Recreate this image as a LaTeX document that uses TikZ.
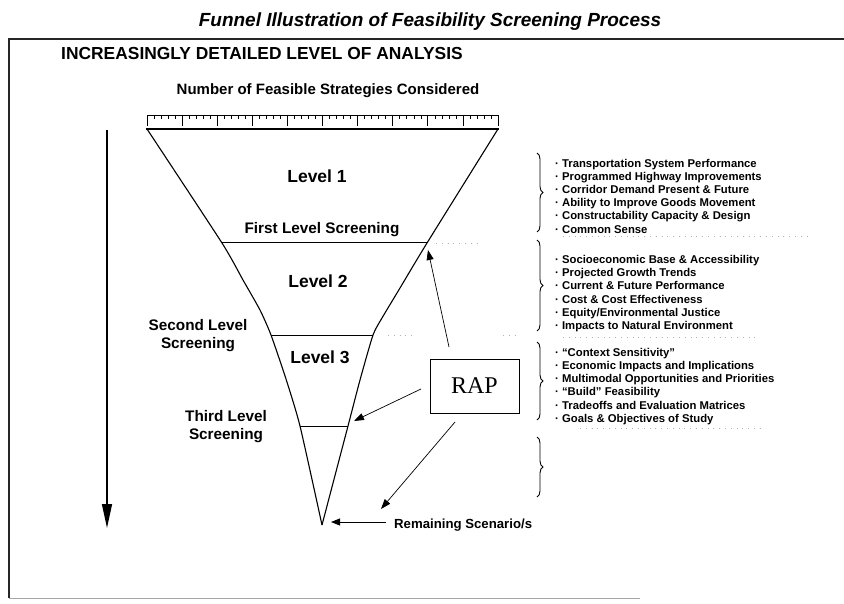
\documentclass[tikz,border=0pt]{standalone}
\usepackage{fontspec}
\setmainfont{Liberation Sans}
\newfontfamily\rapfont{Liberation Serif}
\usetikzlibrary{arrows.meta,decorations.pathreplacing}
\begin{document}
\begin{tikzpicture}[x=1pt,y=-1pt,
  txt/.style={inner sep=0pt,anchor=base},
  lvl/.style={txt,font=\bfseries\fontsize{17.5}{20}\selectfont},
  scr/.style={inner sep=0pt,align=center,font=\bfseries\fontsize{15.3}{18}\selectfont},
  item/.style={inner sep=0pt,anchor=base west,font=\bfseries\fontsize{11.3}{13}\selectfont},
  funnel/.style={line width=1.1pt,line join=round},
  cutline/.style={line width=1pt},
  faint/.style={gray!60,line width=0.7pt,dash pattern=on 0.8pt off 5pt},
  bracestyle/.style={line width=0.9pt,decorate,decoration={brace,amplitude=6pt}},
  rarrow/.style={line width=0.7pt,-{Triangle[length=10pt,width=7pt]}},
]
\useasboundingbox (0,0) rectangle (844,604);
\fill[white] (0,0) rectangle (844,604);

% frame
\coordinate (ftl) at (9,39);
\coordinate (ftr) at (844,39);
\coordinate (fbl) at (9,598);
\coordinate (fbr) at (640,598);
\draw[line width=1.2pt,black!85] (ftr) -- (ftl) -- (fbl);
\draw[line width=1pt,gray!70] (fbl) -- (fbr);

% titles
\node[txt,font=\bfseries\itshape\fontsize{19}{22}\selectfont] (title) at (430,27) {Funnel Illustration of Feasibility Screening Process};
\node[txt,anchor=base west,font=\bfseries\fontsize{17.4}{20}\selectfont] (head) at (61,60) {INCREASINGLY DETAILED LEVEL OF ANALYSIS};
\node[txt,font=\bfseries\fontsize{15}{18}\selectfont] (num) at (328,95) {Number of Feasible Strategies Considered};

% ruler
\draw[line width=0.8pt] (147,115) -- (498,115);
\foreach \i in {0,...,10} \draw[line width=0.8pt] ({147+\i*35.1},115) -- ++(0,11);
\foreach \i in {0,...,9} \foreach \j in {1,...,4} \draw[line width=0.5pt] ({147+\i*35.1+\j*7.02},115) -- ++(0,4);
\draw[line width=1.5pt] (146,129) -- (499,129);

% funnel
\coordinate (tl) at (147,129);
\coordinate (tr) at (498,129);
\coordinate (a1l) at (222,243);
\coordinate (a1r) at (427,243);
\coordinate (a2l) at (271,335);
\coordinate (a2r) at (373,335);
\coordinate (a3l) at (300,426);
\coordinate (a3r) at (348,426);
\coordinate (apex) at (322,525);
\draw[funnel] plot[smooth,tension=0.35] coordinates {(147,129) (222,243) (243,280) (260,310) (271,335) (286,379) (300,426) (322,525)};
\draw[funnel] plot[smooth,tension=0.35] coordinates {(498,129) (427,243) (400,288) (382,318) (373,335) (360,380) (348,426) (322,525)};
\draw[cutline] (a1l) -- (a1r);
\draw[cutline] (a2l) -- (a2r);
\draw[cutline] (a3l) -- (a3r);

% faint dotted guides
\draw[faint] (436,243) -- (480,243);
\draw[faint] (563,236) -- (808,236);
\draw[faint] (388,335) -- (415,335);
\draw[faint] (503,335) -- (518,335);
\draw[faint] (563,337) -- (760,337);
\draw[faint] (580,428) -- (760,428);

% level labels
\node[lvl] (lv1) at (317,183) {Level 1};
\node[txt,font=\bfseries\fontsize{15.3}{18}\selectfont] (s1) at (322,234) {First Level Screening};
\node[lvl] (lv2) at (318,288) {Level 2};
\node[lvl] (lv3) at (320,363) {Level 3};
\node[scr] (s2) at (198,336) {Second Level\\Screening};
\node[scr] (s3) at (226,427) {Third Level\\Screening};

% down arrow
\coordinate (dtop) at (107,130);
\coordinate (dbot) at (107,528);
\draw[line width=1.3pt,-{Triangle[length=24pt,width=10pt]}] (dtop) -- (dbot);

% remaining
\coordinate (rs) at (386,522);
\coordinate (re) at (331,522);
\draw[line width=0.8pt,-{Triangle[length=9pt,width=7pt]}] (rs) -- (re);
\node[txt,anchor=base west,font=\bfseries\fontsize{13.2}{15}\selectfont] (rem) at (394,528) {Remaining Scenario/s};

% RAP
\node[draw,line width=0.9pt,minimum width=89pt,minimum height=54pt,inner sep=0pt,font=\rapfont\fontsize{24}{24}\selectfont] (rap) at (474.5,386) {RAP};
\coordinate (r1s) at (449,347);
\coordinate (r1e) at (428,250);
\coordinate (r2s) at (421,389);
\coordinate (r2e) at (354,421);
\coordinate (r3s) at (455,422);
\coordinate (r3e) at (381,509);
\draw[rarrow] (r1s) -- (r1e);
\draw[rarrow] (r2s) -- (r2e);
\draw[rarrow] (r3s) -- (r3e);

% braces
\draw[bracestyle] (537,153) -- (537,232);
\draw[bracestyle] (537,240) -- (537,331);
\draw[bracestyle] (537,342) -- (537,420);
\draw[bracestyle] (537,437) -- (537,497);

% lists
\foreach \t [count=\k] in {Transportation System Performance,Programmed Highway Improvements,Corridor Demand Present \& Future,Ability to Improve Goods Movement,Constructability Capacity \& Design,Common Sense}
  \node[item] (la\k) at (555,{154+\k*13.2}) {· \t};
\foreach \t [count=\k] in {Socioeconomic Base \& Accessibility,Projected Growth Trends,Current \& Future Performance,Cost \& Cost Effectiveness,Equity/Environmental Justice,Impacts to Natural Environment}
  \node[item] (lb\k) at (555,{250+\k*13.3}) {· \t};
\foreach \t [count=\k] in {“Context Sensitivity”,Economic Impacts and Implications,Multimodal Opportunities and Priorities,“Build” Feasibility,Tradeoffs and Evaluation Matrices,Goals \& Objectives of Study}
  \node[item] (lc\k) at (555,{343+\k*13.2}) {· \t};
\end{tikzpicture}
\end{document}
